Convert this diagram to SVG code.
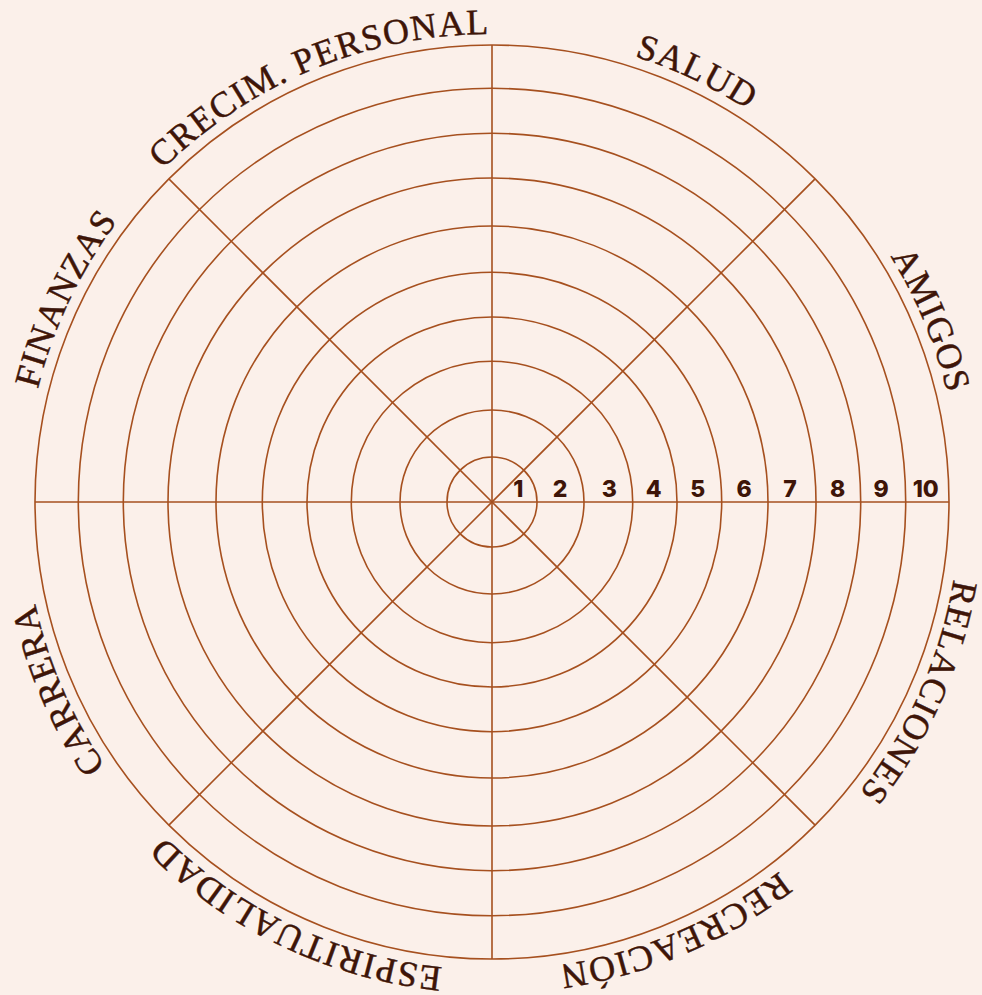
<svg xmlns="http://www.w3.org/2000/svg" width="982" height="995" viewBox="0 0 982 995">
<style>
.ring{fill:none;stroke:#A6501F;stroke-width:1.6}
.spoke{stroke:#A6501F;stroke-width:1.6}
.lbl{font-family:"Liberation Serif","Times New Roman",serif;font-size:36px;letter-spacing:1.3px;fill:#3E1508;stroke:#3E1508;stroke-width:0.45px}
.num{font-family:Inter,"DejaVu Sans",sans-serif;font-weight:800;font-size:23px;fill:#3E1508;text-anchor:middle}
</style>
<defs>
<path id="lp" d="M 492,34 A 468,468 0 1,1 492,970 A 468,468 0 1,1 492,34"/>
</defs>
<rect width="982" height="995" fill="#FBF0EA"/>
<g id="rings">
<circle class="ring" cx="492" cy="502" r="45"/>
<circle class="ring" cx="492" cy="502" r="92"/>
<circle class="ring" cx="492" cy="502" r="140.7"/>
<circle class="ring" cx="492" cy="502" r="185"/>
<circle class="ring" cx="492" cy="502" r="229.7"/>
<circle class="ring" cx="492" cy="502" r="276"/>
<circle class="ring" cx="492" cy="502" r="324"/>
<circle class="ring" cx="492" cy="502" r="368.7"/>
<circle class="ring" cx="492" cy="502" r="413.7"/>
<circle class="ring" cx="492" cy="502" r="457"/>
</g>
<g id="connectors">
<line class="spoke" x1="35" y1="502" x2="949" y2="502"/>
<line class="spoke" x1="492" y1="45" x2="492" y2="959"/>
<line class="spoke" x1="168.9" y1="178.9" x2="815.1" y2="825.1"/>
<line class="spoke" x1="815.1" y1="178.9" x2="168.9" y2="825.1"/>
</g>
<g id="numbers">
<text class="num" x="518.3" y="497">1</text>
<text class="num" x="560" y="497">2</text>
<text class="num" x="609.3" y="497">3</text>
<text class="num" x="653.7" y="497">4</text>
<text class="num" x="697.7" y="497">5</text>
<text class="num" x="744" y="497">6</text>
<text class="num" x="790" y="497">7</text>
<text class="num" x="837.7" y="497">8</text>
<text class="num" x="881" y="497">9</text>
<text class="num" x="925.7" y="497">10</text>
</g>
<g id="label-salud"><text class="lbl" text-anchor="middle"><textPath href="#lp" startOffset="7.08%">SALUD</textPath></text></g>
<g id="label-amigos"><text class="lbl" text-anchor="middle"><textPath href="#lp" startOffset="18.75%">AMIGOS</textPath></text></g>
<g id="label-relaciones"><text class="lbl" text-anchor="middle"><textPath href="#lp" startOffset="31.67%">RELACIONES</textPath></text></g>
<g id="label-recreacion"><text class="lbl" text-anchor="middle"><textPath href="#lp" startOffset="43.6%">RECREACIÓN</textPath></text></g>
<g id="label-espiritualidad"><text class="lbl" text-anchor="middle"><textPath href="#lp" startOffset="57.03%">ESPIRITUALIDAD</textPath></text></g>
<g id="label-carrera"><text class="lbl" text-anchor="middle"><textPath href="#lp" startOffset="68.5%">CARRERA</textPath></text></g>
<g id="label-finanzas"><text class="lbl" text-anchor="middle"><textPath href="#lp" startOffset="82.08%">FINANZAS</textPath></text></g>
<g id="label-crecim"><text class="lbl" text-anchor="middle"><textPath href="#lp" startOffset="93.75%">CRECIM. PERSONAL</textPath></text></g>
</svg>
